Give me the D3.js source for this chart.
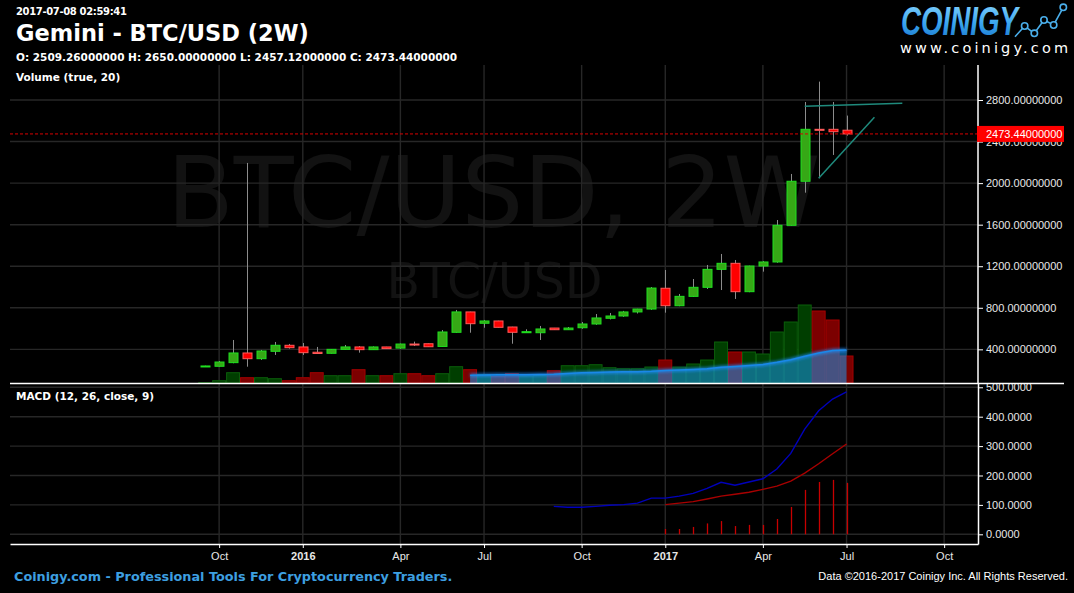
<!DOCTYPE html>
<html><head><meta charset="utf-8">
<script src="https://cdn.jsdelivr.net/npm/d3@7"></script>
<style>
html,body{margin:0;padding:0;background:#000;}
svg{display:block;}
</style></head><body>
<svg id="chart" width="1074" height="593"></svg>
<script>
// ---------------- DATA ----------------
const startDate = "2015-09-28";   // first 2W candle
const periodDays = 14;
const open  = [235,237,272,365,310,381,439,423,372,362,400,423,397,423,412,451,454,428,564,760,651,673,615,560,560,605,589,608,644,699,721,760,788,988,820,910,997,1170,1228,955,1202,1241,1594,2018,2518,2518,2509.26];
const high  = [242,288,490,2194,394,471,452,461,423,402,442,432,428,424,455,474,456,586,779,762,683,675,617,593,625,606,615,663,740,750,770,790,1000,1164,933,1077,1212,1318,1260,1205,1250,1645,2088,2781,2977,2781,2650];
const low   = [233,235,266,233,298,346,407,346,358,360,398,368,396,405,405,432,425,425,560,560,608,610,454,558,490,588,588,598,636,688,713,745,780,753,815,905,981,971,885,950,1148,1234,1590,1908,2047,2271,2457.12];
const close = [240,278,365,310,384,439,416,368,360,400,423,397,423,407,451,447,425,567,760,647,673,612,564,570,596,589,605,644,702,721,760,788,990,820,910,997,1170,1228,955,1202,1241,1594,2018,2518,2515,2495,2473.44];
const volume = [0.4,2.3,10.3,5.3,5.3,4.3,2.3,5.3,10.3,7.3,7.3,13.3,7.3,7.3,9.3,9.3,7.3,9.3,16.3,13.3,8.5,6.6,9.3,7,7.5,12.3,17.3,17.3,18.3,15.3,14.3,14.3,16,23,16,19,23,41,31,31,29,51,61,78,72,63,27];
const volumeMaPeriod = 20;
const macdStart = 25;
const macdLine = [95,92,92,95,99,101,106,123,123,130,139,156,177,167,178,189,222,275,358,420,460,484];
const signalStart = 33;
const signalLine = [101,106,111,120,130,136,143,153,164,181,208,240,274,307];
const histogram = [18,18,25,37,45,28,32,32,52,93,151,178,185,175];
const priceTicks = [400,800,1200,1600,2000,2400,2800];
const macdTicks = [0,100,200,300,400,500];
const tickMonths = ["2015-10-01","2016-01-01","2016-04-01","2016-07-01","2016-10-01","2017-01-01","2017-04-01","2017-07-01","2017-10-01"];
const trendLines = [[[43,2740],[50,2769]],[[44,2047],[48,2634]]];
const lastPrice = 2473.44;
const headerTime = "2017-07-08 02:59:41";
const headerTitle = "Gemini - BTC/USD (2W)";
const ohlcText = "O: 2509.26000000 H: 2650.00000000 L: 2457.12000000 C: 2473.44000000";
const logoPoints = [[0,0],[1,-10.7],[2,-3.4],[3,-16.7],[4,-11.7],[5,-29.4]];

// ---------------- SCALES ----------------
const parse = d3.utcParse("%Y-%m-%d");
const t0 = parse(startDate);
const dates = open.map((_, k) => d3.utcDay.offset(t0, periodDays * k));
const candleDate = k => d3.utcDay.offset(t0, periodDays * k);

const x = d3.scaleUtc()
  .domain([d3.utcDay.offset(t0, -196), d3.utcDay.offset(t0, 776)])
  .range([10, 978]);
const yP = d3.scaleLinear().domain([76, 3137]).range([383, 65]);
const yV = d3.scaleLinear().domain([0, 318]).range([383, 65]);
const yM = d3.scaleLinear().domain([-33, 514.6]).range([544, 383]);

const tickDates = tickMonths.map(m => {
  const k = Math.ceil((parse(m) - t0) / (periodDays * 864e5));
  return candleDate(k);
});
const step = x(candleDate(1)) - x(candleDate(0));

const svg = d3.select("#chart");
svg.append("rect").attr("width",1074).attr("height",593).attr("fill","#000");

// glow filter + logo gradient
const defs = svg.append("defs");
const f = defs.append("filter").attr("id","glow").attr("x","-10%").attr("y","-50%").attr("width","120%").attr("height","200%");
f.append("feGaussianBlur").attr("stdDeviation",1.6);
const grad = defs.append("linearGradient").attr("id","logoGrad").attr("x1",0).attr("y1",0).attr("x2",0).attr("y2",1);
grad.append("stop").attr("offset","0%").attr("stop-color","#8fd8ff");
grad.append("stop").attr("offset","55%").attr("stop-color","#3aa6ef");
grad.append("stop").attr("offset","100%").attr("stop-color","#1671c9");

// ---------------- WATERMARK ----------------
svg.append("text").attr("x",493.5).attr("y",227).attr("text-anchor","middle")
  .attr("font-family","DejaVu Sans").attr("font-size",98).attr("fill","#121212").text("BTC/USD, 2W");
svg.append("text").attr("x",494.5).attr("y",298).attr("text-anchor","middle")
  .attr("font-family","DejaVu Sans").attr("font-size",49).attr("fill","#121212").text("BTC/USD");

// ---------------- GRID ----------------
const grid = svg.append("g").attr("stroke","#272727").attr("stroke-width",1.4);
grid.selectAll(".vg").data(tickDates).join("line")
  .attr("x1",d=>x(d)).attr("x2",d=>x(d)).attr("y1",65).attr("y2",544);
grid.selectAll(".hp").data(priceTicks).join("line")
  .attr("x1",10).attr("x2",978).attr("y1",d=>yP(d)).attr("y2",d=>yP(d));
grid.selectAll(".hm").data(macdTicks).join("line")
  .attr("x1",10).attr("x2",978).attr("y1",d=>yM(d)).attr("y2",d=>yM(d));

// ---------------- VOLUME ----------------
const up = k => close[k] >= open[k];
svg.append("g").selectAll("rect").data(volume).join("rect")
  .attr("x",(d,k)=>x(dates[k]) - step/2 + 0.5)
  .attr("width",step - 1)
  .attr("y",d=>yV(d))
  .attr("height",d=>Math.max(0, yV(0)-yV(d)))
  .attr("fill",(d,k)=>up(k) ? "#003e00" : "#7c0000")
  .attr("stroke",(d,k)=>up(k) ? "#0b5e0b" : "#a40000")
  .attr("stroke-width",1);

const ma = [];
for (let k = volumeMaPeriod - 1; k < volume.length; k++) {
  ma.push({k, v: d3.mean(volume.slice(k - volumeMaPeriod + 1, k + 1))});
}
svg.append("path").datum(ma)
  .attr("d", d3.area().x(d=>x(dates[d.k])).y0(yV(0)).y1(d=>yV(d.v)))
  .attr("fill","rgba(25,150,235,0.55)");
svg.append("path").datum(ma)
  .attr("d", d3.line().x(d=>x(dates[d.k])).y(d=>yV(d.v)))
  .attr("fill","none").attr("stroke","#1e8fff").attr("stroke-width",3.5).attr("opacity",0.7).attr("filter","url(#glow)");
svg.append("path").datum(ma)
  .attr("d", d3.line().x(d=>x(dates[d.k])).y(d=>yV(d.v)))
  .attr("fill","none").attr("stroke","#1a88e8").attr("stroke-width",1.5);

// ---------------- CANDLES ----------------
const cg = svg.append("g");
cg.selectAll("line").data(open).join("line")
  .attr("x1",(d,k)=>Math.round(x(dates[k]))+0.5).attr("x2",(d,k)=>Math.round(x(dates[k]))+0.5)
  .attr("y1",(d,k)=>yP(high[k])).attr("y2",(d,k)=>yP(low[k]))
  .attr("stroke","#8c8c8c").attr("stroke-width",1);
cg.selectAll("rect").data(open).join("rect")
  .attr("x",(d,k)=>Math.round(x(dates[k])) - 4)
  .attr("width",9)
  .attr("y",(d,k)=>Math.min(yP(open[k]), yP(close[k])))
  .attr("height",(d,k)=>Math.max(1, Math.abs(yP(open[k]) - yP(close[k]))))
  .attr("fill",(d,k)=>up(k) ? "#36a816" : "#ff0000")
  .attr("stroke",(d,k)=>up(k) ? "#1fe01f" : "#ff5a5a")
  .attr("stroke-width",1);

// current price line
svg.append("line").attr("x1",10).attr("x2",978).attr("y1",yP(lastPrice)).attr("y2",yP(lastPrice))
  .attr("stroke","#d80000").attr("stroke-width",1).attr("stroke-dasharray","3,2");

// trend lines
svg.append("g").selectAll("line").data(trendLines).join("line")
  .attr("x1",d=>x(candleDate(d[0][0]))).attr("y1",d=>yP(d[0][1]))
  .attr("x2",d=>x(candleDate(d[1][0]))).attr("y2",d=>yP(d[1][1]))
  .attr("stroke","#1f8a7c").attr("stroke-width",1.5);

// ---------------- MACD ----------------
const mg = svg.append("g");
mg.selectAll("line").data(histogram).join("line")
  .attr("x1",(d,i)=>Math.round(x(dates[signalStart+i]))+0.5).attr("x2",(d,i)=>Math.round(x(dates[signalStart+i]))+0.5)
  .attr("y1",yM(0)).attr("y2",d=>yM(d))
  .attr("stroke","#c80000").attr("stroke-width",1.3);
mg.append("path").datum(signalLine)
  .attr("d", d3.line().x((d,i)=>x(dates[signalStart+i])).y(d=>yM(d)))
  .attr("fill","none").attr("stroke","#a80000").attr("stroke-width",1.4);
mg.append("path").datum(macdLine)
  .attr("d", d3.line().x((d,i)=>x(dates[macdStart+i])).y(d=>yM(d)))
  .attr("fill","none").attr("stroke","#0000bb").attr("stroke-width",1.4);

// ---------------- AXES ----------------
const axP = svg.append("g").attr("transform","translate(978,0)")
  .call(d3.axisRight(yP).tickValues(priceTicks).tickFormat(d3.format(".8f")).tickSize(5).tickSizeOuter(0).tickPadding(3));
const axM = svg.append("g").attr("transform","translate(978,0)")
  .call(d3.axisRight(yM).tickValues(macdTicks).tickFormat(d3.format(".4f")).tickSize(5).tickSizeOuter(0).tickPadding(3));
const axX = svg.append("g").attr("transform","translate(0,544)")
  .call(d3.axisBottom(x).tickValues(tickDates)
    .tickFormat(d => d.getUTCMonth() < 1 ? d3.utcFormat("%Y")(d) : d3.utcFormat("%b")(d))
    .tickSize(4).tickSizeOuter(0).tickPadding(4));
[axP, axM, axX].forEach(a => {
  a.selectAll("path").attr("stroke","#fff").attr("stroke-width",1.5);
  a.selectAll("line").attr("stroke","#fff");
  a.selectAll("text").attr("fill","#e8e8e8").attr("font-family","Liberation Sans, Arial, sans-serif").attr("font-size",11);
});
axX.selectAll("text").attr("font-weight", d => d.getUTCMonth() < 1 ? "bold" : "normal");
axP.select("path").attr("d","M0,65V383");

// pane separator
svg.append("line").attr("x1",10).attr("x2",1064).attr("y1",383.5).attr("y2",383.5).attr("stroke","#fff").attr("stroke-width",1.5);

// last price label
svg.append("rect").attr("x",977).attr("y",yP(lastPrice)-8).attr("width",87).attr("height",16).attr("fill","#ff0000");
svg.append("text").attr("x",986).attr("y",yP(lastPrice)).attr("dy","0.35em")
  .attr("font-family","Liberation Sans, Arial, sans-serif").attr("font-size",11).attr("fill","#fff")
  .text(d3.format(".8f")(lastPrice));

// ---------------- TEXTS ----------------
const T = (txt, xx, yy, size, weight, fam, fill) => svg.append("text").attr("x",xx).attr("y",yy)
  .attr("font-size",size).attr("font-weight",weight).attr("font-family",fam).attr("fill",fill||"#fff").text(txt);
T(headerTime, 16, 15, 10, "bold", "DejaVu Sans").attr("letter-spacing",-0.35);
T(headerTitle, 16, 41, 22.5, "bold", "DejaVu Sans");
T(ohlcText, 16, 61, 10.5, "bold", "DejaVu Sans");
T("Volume (true, 20)", 16, 81, 10.5, "bold", "DejaVu Sans");
T("MACD (12, 26, close, 9)", 16, 400, 10.5, "bold", "DejaVu Sans");
T("Coinigy.com - Professional Tools For Cryptocurrency Traders.", 14, 581, 12.8, "bold", "DejaVu Sans", "#3d9fe0");
T("Data \u00a92016-2017 Coinigy Inc. All Rights Reserved.", 1068, 580, 11, "normal", "Liberation Sans, Arial, sans-serif")
  .attr("text-anchor","end");

// logo
svg.append("text").attr("x",901).attr("y",35).attr("font-family","Liberation Sans, Arial, sans-serif")
  .attr("font-size",40).attr("font-weight","bold").attr("font-style","italic")
  .attr("textLength",117).attr("lengthAdjust","spacingAndGlyphs")
  .attr("fill","url(#logoGrad)").text("COINIGY");
svg.append("text").attr("x",900).attr("y",53).attr("font-family","DejaVu Sans")
  .attr("font-size",14.5).attr("fill","#fff")
  .attr("textLength",168).attr("lengthAdjust","spacing").text("www.coinigy.com");
const lx = d3.scaleLinear().domain([0,5]).range([1015,1063.3]);
const ly = d3.scaleLinear().domain([0,-29.4]).range([36.7,7.3]);
svg.append("path").datum(logoPoints)
  .attr("d", d3.line().x(d=>lx(d[0])).y(d=>ly(d[1])))
  .attr("fill","none").attr("stroke","#4aaeea").attr("stroke-width",1.6);
svg.append("g").selectAll("circle").data(logoPoints.slice(1)).join("circle")
  .attr("cx",d=>lx(d[0])).attr("cy",d=>ly(d[1])).attr("r",3.2)
  .attr("fill","#000").attr("stroke","#4aaeea").attr("stroke-width",1.6);
</script>
</body></html>
